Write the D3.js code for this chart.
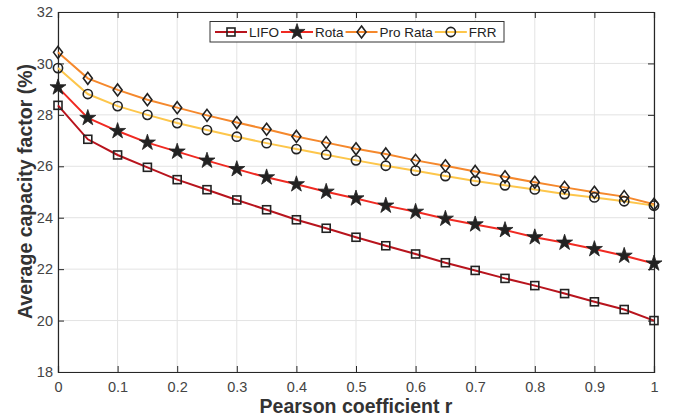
<!DOCTYPE html>
<html><head><meta charset="utf-8">
<script src="https://cdn.jsdelivr.net/npm/d3@7"></script>
<style>body{margin:0;background:#fff}svg{display:block}text{font-family:"Liberation Sans",Arial,sans-serif}</style>
</head><body><svg id="c" width="675" height="418"></svg>
<script>
const rValues = [0,0.05,0.1,0.15,0.2,0.25,0.3,0.35,0.4,0.45,0.5,0.55,0.6,0.65,0.7,0.75,0.8,0.85,0.9,0.95,1];
const lifo    = [28.37,27.05,26.44,25.96,25.48,25.09,24.69,24.31,23.92,23.59,23.24,22.91,22.59,22.25,21.95,21.64,21.36,21.05,20.73,20.43,20.0];
const rota    = [29.07,27.88,27.37,26.92,26.57,26.22,25.89,25.57,25.30,25.01,24.75,24.47,24.23,23.96,23.74,23.52,23.24,23.03,22.78,22.52,22.22];
const proRata = [30.43,29.42,28.97,28.59,28.28,27.98,27.70,27.44,27.16,26.92,26.68,26.48,26.23,26.02,25.80,25.59,25.38,25.18,24.99,24.82,24.52];
const frr     = [29.82,28.81,28.34,28.00,27.68,27.41,27.15,26.90,26.67,26.45,26.23,26.02,25.83,25.62,25.43,25.26,25.10,24.92,24.79,24.64,24.47];
const seriesNames = ["LIFO","Rota","Pro Rata","FRR"];
const xTicks = [0,0.1,0.2,0.3,0.4,0.5,0.6,0.7,0.8,0.9,1];
const yTicks = [18,20,22,24,26,28,30,32];

const svg = d3.select("#c");
const L=58, R=654, T=12, B=372;
const x = d3.scaleLinear().domain([0,1]).range([L,R]);
const y = d3.scaleLinear().domain([18,32]).range([B,T]);

const series = [
  {name:seriesNames[0], data:lifo, color:"#b8141d", marker:"square"},
  {name:seriesNames[1], data:rota, color:"#f02a22", marker:"star"},
  {name:seriesNames[2], data:proRata, color:"#f5882c", marker:"diamond"},
  {name:seriesNames[3], data:frr, color:"#fdc64b", marker:"circle"}
];

// grid
const g = svg.append("g");
g.selectAll(".vg").data(xTicks).join("line").attr("x1",d=>x(d)).attr("x2",d=>x(d)).attr("y1",T).attr("y2",B).attr("stroke","#e3e3e3").attr("stroke-width",1);
g.selectAll(".hg").data(yTicks).join("line").attr("y1",d=>y(d)).attr("y2",d=>y(d)).attr("x1",L).attr("x2",R).attr("stroke","#e3e3e3").attr("stroke-width",1);

// axes
const axc = "#262626";
const xa = svg.append("g").attr("transform",`translate(0,${B})`).call(d3.axisBottom(x).tickValues(xTicks).tickSize(-6).tickPadding(10).tickFormat(d=>String(d)));
const xt = svg.append("g").attr("transform",`translate(0,${T})`).call(d3.axisTop(x).tickValues(xTicks).tickSize(-6).tickFormat(""));
const ya = svg.append("g").attr("transform",`translate(${L},0)`).call(d3.axisLeft(y).tickValues(yTicks).tickSize(-6).tickPadding(5));
const yr = svg.append("g").attr("transform",`translate(${R},0)`).call(d3.axisRight(y).tickValues(yTicks).tickSize(-6).tickFormat(""));
[xa,xt,ya,yr].forEach(a=>{a.select(".domain").attr("stroke",axc).attr("stroke-width",1.2);a.selectAll(".tick line").attr("stroke",axc);a.selectAll("text").attr("fill","#444").attr("font-size",14.5).attr("font-family","Liberation Sans, Arial, sans-serif");});

// markers
function drawMarker(sel, type){
  if(type==="square") sel.append("rect").attr("x",-4).attr("y",-4).attr("width",8).attr("height",8).attr("fill","none").attr("stroke","#222").attr("stroke-width",1.6);
  else if(type==="diamond") sel.append("path").attr("d","M0,-6L4.5,0L0,6L-4.5,0Z").attr("fill","none").attr("stroke","#222").attr("stroke-width",1.6);
  else if(type==="circle") sel.append("circle").attr("r",4.6).attr("fill","none").attr("stroke","#222").attr("stroke-width",1.6);
  else if(type==="star") sel.append("path").attr("d",d3.symbol(d3.symbolStar,80)()).attr("fill","#222").attr("stroke","#222").attr("stroke-width",0.8);
}

const line = d3.line().x((d,i)=>x(rValues[i])).y(d=>y(d));
series.forEach(s=>{
  svg.append("path").attr("d",line(s.data)).attr("fill","none").attr("stroke",s.color).attr("stroke-width",2);
});
series.forEach(s=>{
  svg.append("g").selectAll("g").data(s.data).join("g").attr("transform",(d,i)=>`translate(${x(rValues[i])},${y(d)})`).each(function(){drawMarker(d3.select(this),s.marker);});
});

// legend
const lg = svg.append("g");
lg.append("rect").attr("x",210).attr("y",21.5).attr("width",294).attr("height",20.5).attr("fill","#fff").attr("stroke","#333").attr("stroke-width",1);
let lx = 215;
series.forEach(s=>{
  lg.append("line").attr("x1",lx).attr("x2",lx+32).attr("y1",32).attr("y2",32).attr("stroke",s.color).attr("stroke-width",2);
  drawMarker(lg.append("g").attr("transform",`translate(${lx+16},32)`), s.marker);
  const t = lg.append("text").attr("x",lx+34).attr("y",36.8).attr("font-size",13.5).attr("fill","#222").text(s.name);
  lx += 34 + t.node().getComputedTextLength() + 2;
});

// labels
svg.append("text").attr("x",356).attr("y",413).attr("text-anchor","middle").attr("font-size",19.5).attr("font-weight","bold").attr("fill","#333").text("Pearson coefficient r");
svg.append("text").attr("transform",`translate(32,191.5) rotate(-90)`).attr("text-anchor","middle").attr("font-size",19.5).attr("font-weight","bold").attr("fill","#333").text("Average capacity factor (%)");
</script></body></html>
